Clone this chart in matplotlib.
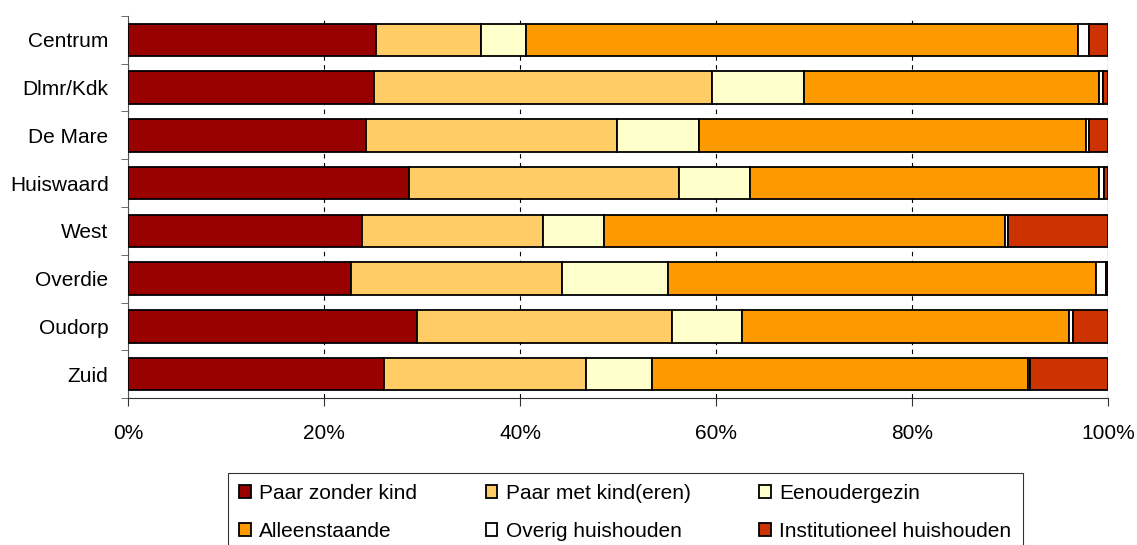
import numpy as np
import matplotlib
matplotlib.use("Agg")
import matplotlib.pyplot as plt
from matplotlib.ticker import PercentFormatter

plt.rcParams['font.family'] = ['Liberation Sans', 'DejaVu Sans']

wijken = ['Centrum', 'Dlmr/Kdk', 'De Mare', 'Huiswaard', 'West', 'Overdie', 'Oudorp', 'Zuid']
series = ['Paar zonder kind', 'Paar met kind(eren)', 'Eenoudergezin',
          'Alleenstaande', 'Overig huishouden', 'Institutioneel huishouden']

paar_zonder = [25.3, 25.1, 24.3, 28.7, 23.9, 22.7, 29.5, 26.1]
paar_met = [10.7, 34.5, 25.6, 27.5, 18.4, 21.6, 26.0, 20.6]
eenouder = [4.6, 9.4, 8.4, 7.3, 6.3, 10.8, 7.1, 6.8]
alleen = [56.3, 30.1, 39.4, 35.6, 40.9, 43.7, 33.4, 38.3]
overig = [1.2, 0.4, 0.3, 0.5, 0.3, 1.0, 0.4, 0.2]
instit = [1.9, 0.5, 2.0, 0.4, 10.2, 0.2, 3.6, 8.0]

colors = ['#990000', '#FFCC66', '#FFFFCC', '#FF9900', '#FFFFFF', '#CC3300']

data = np.array([paar_zonder, paar_met, eenouder, alleen, overig, instit])
data = data / data.sum(axis=0) * 100

fig = plt.figure(figsize=(11.37, 5.45), dpi=100)
ax = fig.add_axes([0.1126, 0.2697, 0.862, 0.701])

y = np.arange(len(wijken))
left = np.zeros(len(wijken))
bars = []
for vals, name, c in zip(data, series, colors):
    b = ax.barh(y, vals, left=left, height=0.68, color=c, edgecolor='black',
                linewidth=1.3, label=name, zorder=3)
    bars.append(b)
    left += vals

ax.set_xlim(0, 100)
ax.set_ylim(len(wijken) - 0.5, -0.5)
ax.set_yticks(y)
ax.set_yticklabels(wijken, fontsize=15)
ax.set_yticks(np.arange(-0.5, len(wijken), 1), minor=True)
ax.tick_params(axis='y', which='major', length=0, pad=14)
ax.tick_params(axis='y', which='minor', length=5, color='#555555')
ax.set_xticks(np.arange(0, 101, 20))
ax.xaxis.set_major_formatter(PercentFormatter(decimals=0))
ax.tick_params(axis='x', labelsize=15, length=6, pad=13, color='#333333')

ax.grid(axis='x', color='black', linestyle=(0, (4, 4)), linewidth=0.8, zorder=0)
ax.axvline(100, color='#cccccc', linewidth=1, zorder=1)
for s in ['top', 'right']:
    ax.spines[s].set_visible(False)
ax.spines['left'].set_color('#555555')
ax.spines['bottom'].set_color('#333333')

# legend filled row by row, like the original
order = [0, 3, 1, 4, 2, 5]
leg = fig.legend([bars[i] for i in order], [series[i] for i in order],
                 loc='upper left', bbox_to_anchor=(0.2005, 0.133), ncol=3,
                 fontsize=15, frameon=True, fancybox=False, edgecolor='black',
                 handlelength=0.55, handleheight=0.55, handletextpad=0.4,
                 columnspacing=3.3, borderpad=0.55, labelspacing=0.9,
                 borderaxespad=0)
leg.get_frame().set_linewidth(0.8)

fig.savefig('out.png', dpi=100)
